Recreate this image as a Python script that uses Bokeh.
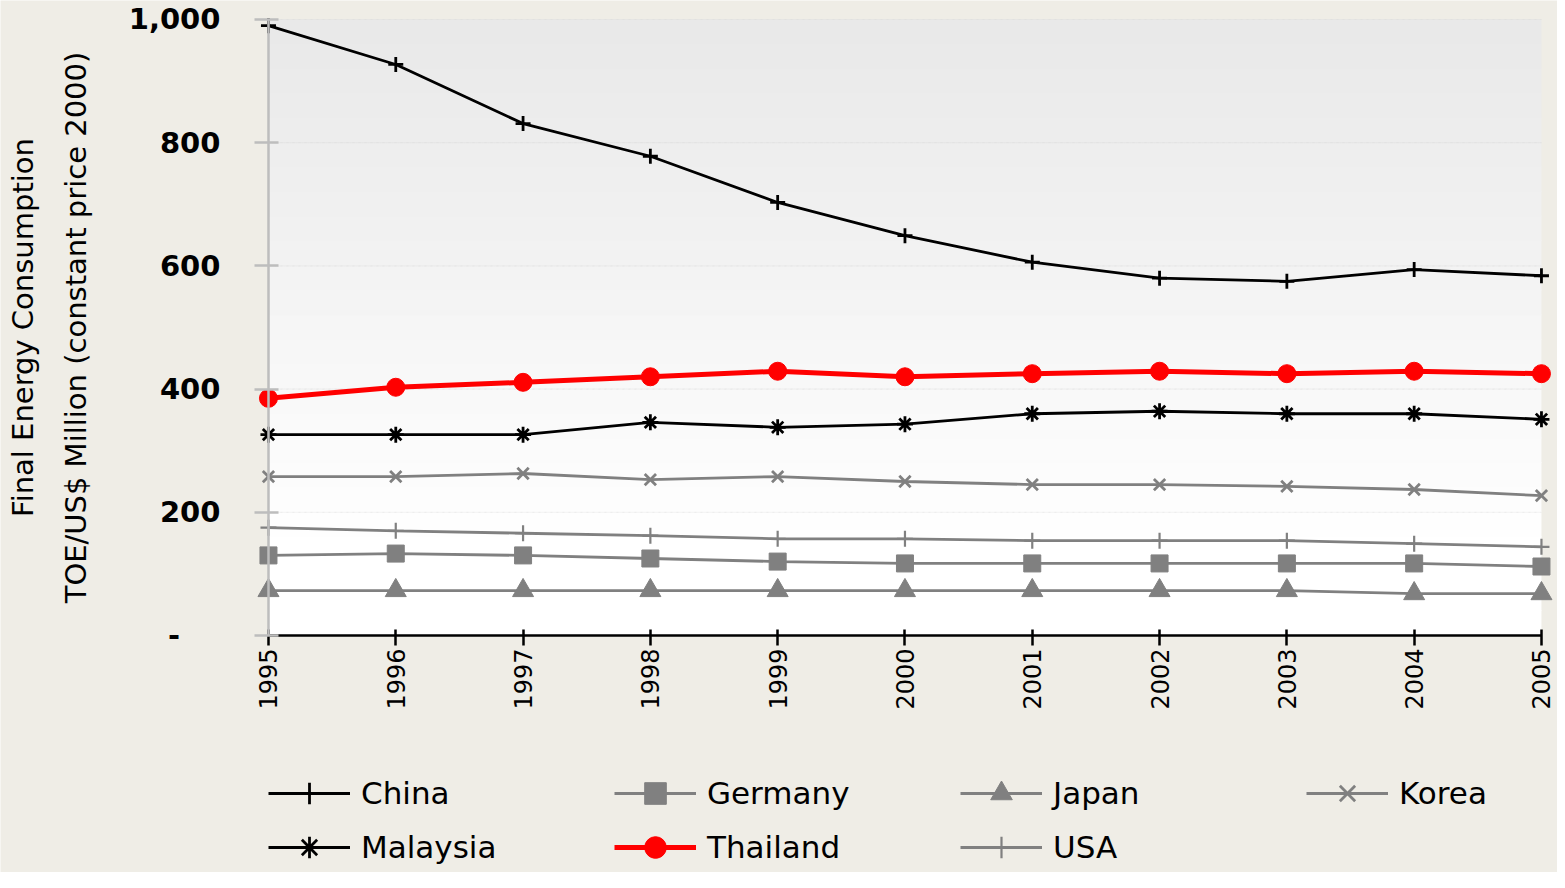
import math
from bokeh.plotting import figure
from bokeh.models import (BoxAnnotation, Label, Legend, LegendItem, FixedTicker,
                          ColumnDataSource)
from bokeh.embed import file_html
from bokeh.resources import INLINE

years = [1995, 1996, 1997, 1998, 1999, 2000, 2001, 2002, 2003, 2004, 2005]
china = [990, 927, 831, 778, 703, 649, 606, 580, 575, 594, 584]
germany = [130, 133, 130, 125, 120, 117, 117, 117, 117, 117, 112]
japan = [73, 73, 73, 73, 73, 73, 73, 73, 73, 68, 68]
korea = [258, 258, 263, 253, 258, 250, 245, 245, 242, 237, 227]
malaysia = [326, 326, 326, 346, 338, 343, 360, 364, 360, 360, 351]
thailand = [385, 403, 411, 420, 429, 420, 425, 429, 425, 429, 425]
usa = [175, 170, 166, 162, 157, 157, 154, 154, 154, 149, 144]
y_ticks = [0, 200, 400, 600, 800, 1000]
grid_values = [200, 400, 600, 800, 1000]
y_tick_labels = {0: "-\u2007\u2007", 200: "200", 400: "400", 600: "600", 800: "800", 1000: "1,000"}
title_line1 = "Final Energy Consumption"
title_line2 = "TOE/US$ Million (constant price 2000)"

BG = "#efede6"
FONT = "DejaVu Sans"
X0, X1 = years[0], years[-1]

p = figure(width=1557, height=872, output_backend="svg", toolbar_location=None,
           x_range=(1992.895, 2005.126), y_range=(-384.74, 1030.84),
           min_border_left=0, min_border_right=0, min_border_top=0, min_border_bottom=0,
           background_fill_color=BG, border_fill_color=BG, outline_line_color=None)

# gradient plot-area background
n = 25
for i in range(n):
    b = 1000 * i / n
    t = 1000 * (i + 1) / n
    mid = (b + t) / 2
    g = 255 if mid < 150 else int(round(255 - (mid - 150) / 850 * 23))
    col = "#%02x%02x%02x" % (g, g, g)
    p.add_layout(BoxAnnotation(left=X0, right=X1, bottom=b, top=min(t + 1.5, 1000),
                               fill_color=col, fill_alpha=1, line_color=None, level="underlay"))

p.xgrid.visible = False
p.ygrid.visible = False
for v in grid_values:
    p.add_layout(BoxAnnotation(left=X0, right=X1, bottom=v, top=v, fill_alpha=0,
                               line_color="#d6d6d6", line_width=1, line_dash="4 2",
                               level="underlay"))

# axes
xa = p.xaxis[0]
xa.ticker = FixedTicker(ticks=years)
xa.bounds = (X0, X1)
xa.fixed_location = 0
xa.axis_line_color = "black"
xa.axis_line_width = 2.5
xa.major_tick_line_color = "black"
xa.major_tick_line_width = 2.5
xa.major_tick_out = 10
xa.major_tick_in = 6
xa.minor_tick_line_color = None
xa.major_label_orientation = math.pi / 2
xa.major_label_text_font = FONT
xa.major_label_text_font_size = "24px"
xa.major_label_text_color = "black"
xa.major_label_standoff = 3

ya = p.yaxis[0]
ya.ticker = FixedTicker(ticks=y_ticks)
ya.major_label_overrides = y_tick_labels
ya.bounds = (0, 1000)
ya.fixed_location = X0
ya.axis_line_color = "#bdbdbd"
ya.axis_line_width = 2.5
ya.major_tick_line_color = "#bdbdbd"
ya.major_tick_line_width = 2.5
ya.major_tick_out = 14
ya.major_tick_in = 10
ya.minor_tick_line_color = None
ya.major_label_text_font = FONT
ya.major_label_text_font_style = "bold"
ya.major_label_text_font_size = "29px"
ya.major_label_text_color = "black"
ya.major_label_standoff = 34

src = ColumnDataSource(dict(year=years, china=china, germany=germany, japan=japan, korea=korea,
                            malaysia=malaysia, thailand=thailand, usa=usa))

series = [
    ("China", "china", "black", 2.8, "cross", 15, 2.8),
    ("Germany", "germany", "#808080", 2.8, "square", 17, 1),
    ("Japan", "japan", "#808080", 2.8, "triangle", 21, 1),
    ("Korea", "korea", "#808080", 2.8, "x", 16, 2.8),
    ("Malaysia", "malaysia", "black", 2.8, "asterisk", 16, 2.8),
    ("Thailand", "thailand", "#ff0000", 5, "circle", 18, 1),
    ("USA", "usa", "#808080", 2.8, "cross", 16, 2.2),
]

items = []
for name, col, color, lw, marker, size, mlw in series:
    r1 = p.line("year", col, source=src, line_color=color, line_width=lw)
    r2 = p.scatter("year", col, source=src, marker=marker, size=size,
                   line_color=color, fill_color=color, line_width=mlw)
    items.append(LegendItem(label=name, renderers=[r1, r2]))

legend = Legend(items=items, location=(268, -2), orientation="horizontal", ncols=4,
                glyph_width=82, glyph_height=54, label_height=54, label_width=253,
                label_standoff=11, spacing=0, padding=0, margin=0,
                label_text_font=FONT, label_text_font_size="31px", label_text_color="black",
                background_fill_alpha=0, border_line_color=None)
p.add_layout(legend)

for txt, xv in [(title_line1, 1993.068), (title_line2, 1993.492)]:
    p.add_layout(Label(x=xv, y=500, text=txt, angle=math.pi / 2, text_align="center",
                       text_baseline="middle", text_font=FONT, text_font_size="29px",
                       text_color="black"))

open("out.html", "w").write(file_html(p, INLINE))
